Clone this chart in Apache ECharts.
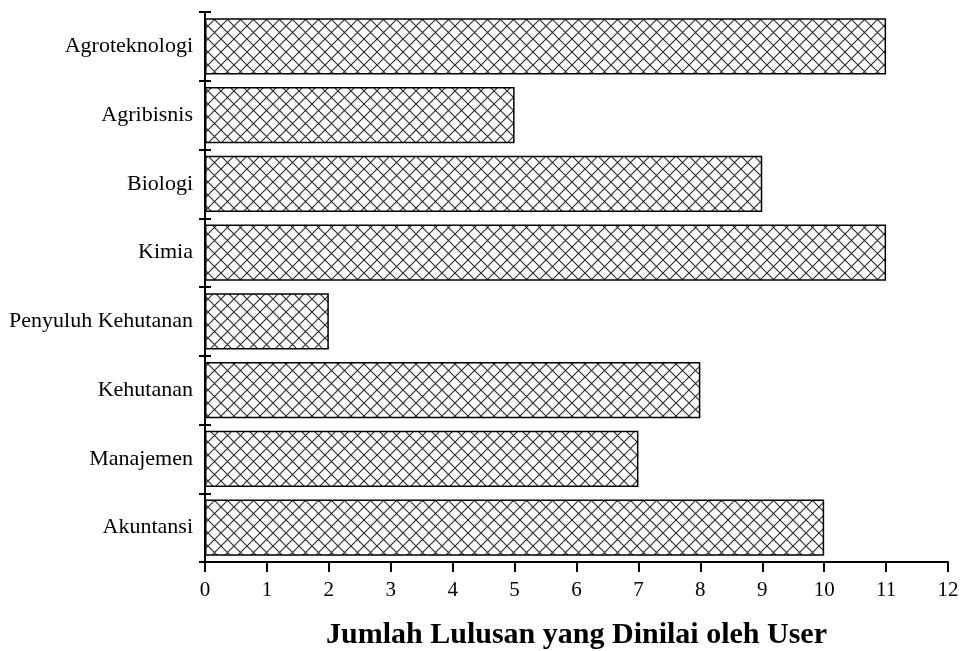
<!DOCTYPE html>
<html><head><meta charset="utf-8">
<script src="https://cdn.jsdelivr.net/npm/echarts@6/dist/echarts.min.js"></script>
<style>html,body{margin:0;padding:0;background:#fff}#c{width:960px;height:651px}</style>
</head><body><div id="c"></div>
<script>
const categories = ['Akuntansi','Manajemen','Kehutanan','Penyuluh Kehutanan','Kimia','Biologi','Agribisnis','Agroteknologi'];
const values = [10, 7, 8, 2, 11, 9, 5, 11];
const xTicks = [0,1,2,3,4,5,6,7,8,9,10,11,12];
const xTitle = 'Jumlah Lulusan yang Dinilai oleh User';

function hatch(){
  const s = 13;
  const c = document.createElement('canvas');
  c.width = s; c.height = s;
  const g = c.getContext('2d');
  g.fillStyle = '#fff'; g.fillRect(0,0,s,s);
  g.strokeStyle = '#2a2a2a'; g.lineWidth = 1.1;
  g.beginPath();
  g.moveTo(-1,-1); g.lineTo(s+1,s+1);
  g.moveTo(-1,s+1); g.lineTo(s+1,-1);
  g.stroke();
  return c;
}
const font = '"Liberation Serif", "Times New Roman", serif';
const chart = echarts.init(document.getElementById('c'));
const yBase = {
  type:'category', data:categories, position:'left',
  axisLine:{show:true, lineStyle:{color:'#000', width:2}},
  splitLine:{show:false}
};
chart.setOption({
  animation:false,
  grid:{left:205, right:12, top:12, bottom:89, containLabel:false, outerBoundsMode:'none'},
  xAxis:{
    type:'value', min:xTicks[0], max:xTicks[xTicks.length-1], interval:1,
    axisLine:{show:true, lineStyle:{color:'#000', width:2}},
    axisTick:{show:true, length:10, lineStyle:{color:'#000', width:2}},
    axisLabel:{color:'#000', fontFamily:font, fontSize:21, margin:18},
    splitLine:{show:false},
    name:xTitle, nameLocation:'middle', nameGap:58,
    nameTextStyle:{color:'#000', fontFamily:font, fontSize:30, fontWeight:'bold'}
  },
  yAxis:[
    Object.assign({}, yBase, {
      axisTick:{show:true, length:6, inside:false, lineStyle:{color:'#000', width:2}},
      axisLabel:{color:'#000', fontFamily:font, fontSize:22, margin:12}
    }),
    Object.assign({}, yBase, {
      axisTick:{show:true, length:6, inside:true, lineStyle:{color:'#000', width:2}},
      axisLabel:{show:false}
    })
  ],
  series:[{
    type:'bar', data:values, yAxisIndex:0, barCategoryGap:'18%',
    itemStyle:{color:{image:hatch(), repeat:'repeat'}, borderColor:'#000', borderWidth:1.5}
  }]
});
</script></body></html>
